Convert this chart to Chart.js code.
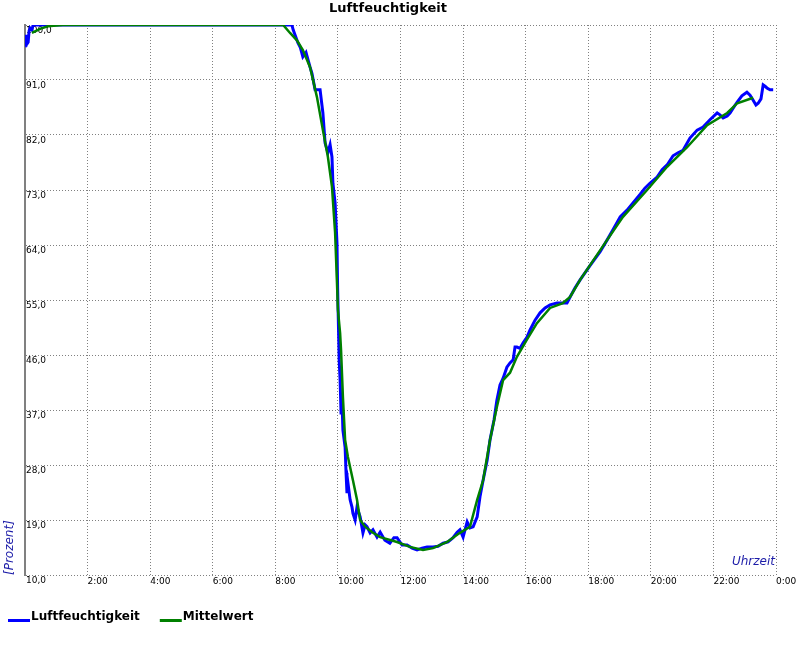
<!DOCTYPE html>
<html>
<head>
<meta charset="utf-8">
<script src="https://cdn.jsdelivr.net/npm/chart.js@4/dist/chart.umd.min.js"></script>
<style>
html,body{margin:0;padding:0;background:#fff;}
canvas{display:block;}
</style>
</head>
<body>
<canvas id="c" width="800" height="650"></canvas>
<script>
const chartTitle = 'Luftfeuchtigkeit';
const xTitle = 'Uhrzeit';
const yTitle = '[Prozent]';
const seriesNames = ['Luftfeuchtigkeit', 'Mittelwert'];
const seriesColors = ['#0000ff', '#008000'];

const humidityHours = [0.00,0.03,0.06,0.10,0.13,0.16,0.22,0.26,8.53,8.57,8.72,8.80,8.88,8.98,9.11,9.17,9.27,9.43,9.52,9.59,9.68,9.75,9.81,9.84,9.91,9.97,9.99,10.02,10.04,10.07,10.10,10.13,10.16,10.23,10.26,10.29,10.32,10.39,10.45,10.48,10.55,10.61,10.71,10.80,10.87,10.93,11.03,11.12,11.25,11.35,11.50,11.66,11.79,11.89,12.05,12.21,12.37,12.53,12.69,12.85,13.04,13.20,13.36,13.52,13.68,13.81,13.90,14.00,14.13,14.22,14.32,14.45,14.54,14.64,14.77,14.86,14.99,15.08,15.18,15.28,15.40,15.50,15.60,15.66,15.72,15.82,15.92,16.04,16.14,16.30,16.46,16.62,16.78,17.00,17.16,17.32,17.42,17.58,17.74,18.05,18.38,18.60,18.79,19.02,19.24,19.43,19.66,19.81,19.97,20.20,20.36,20.52,20.71,20.87,21.03,21.25,21.48,21.67,21.89,22.12,22.21,22.31,22.44,22.53,22.63,22.76,22.91,23.07,23.17,23.27,23.36,23.43,23.52,23.59,23.65,23.71,23.81,23.91];
const humidityValues = [96.7,98.4,96.9,97.2,99.0,99.5,99.2,100,100,99.2,97.1,96.3,94.8,95.5,93.1,92.1,89.4,89.4,85.6,80.7,79.1,80.4,78.4,74.1,70.9,64.3,57.1,50.1,45.2,41.9,36.5,38.6,33.7,30.9,26.7,23.4,25.1,22.3,21.1,20.1,19.0,21.1,19.5,16.9,18.2,17.9,16.9,17.4,16.2,17.0,15.7,15.2,16.1,16.1,14.9,14.9,14.4,14.1,14.4,14.6,14.6,14.7,15.2,15.4,16.1,17.0,17.4,16.2,18.7,17.7,17.9,19.5,22.8,25.5,28.8,32.1,35.4,38.6,41.1,42.2,44.0,44.7,45.2,47.3,47.3,47.1,48.0,48.9,50.1,51.7,52.9,53.7,54.2,54.5,54.5,54.5,55.5,57.0,58.3,60.6,62.9,64.8,66.5,68.6,69.7,70.9,72.3,73.3,74.1,75.1,76.3,77.1,78.6,79.1,79.5,81.5,82.8,83.3,84.5,85.6,85.3,84.8,85.1,85.6,86.4,87.4,88.4,89.0,88.5,87.7,86.9,87.2,87.9,90.2,90.0,89.7,89.4,89.4];

const meanHours = [0.22,0.50,0.73,1.21,8.25,8.47,8.69,8.88,9.11,9.33,9.52,9.68,9.81,9.91,9.97,10.00,10.07,10.10,10.16,10.23,10.32,10.48,10.61,10.71,10.87,11.12,11.35,11.89,12.30,12.72,13.04,13.49,13.90,14.22,14.45,14.64,14.86,15.08,15.28,15.50,15.72,16.04,16.36,16.78,17.19,17.42,17.74,18.60,19.11,19.88,20.52,21.16,21.80,22.44,22.76,23.27];
const meanValues = [98.7,99.4,99.8,100,100,98.7,97.5,95.9,93.1,88.2,82.8,78.4,73.5,66.0,57.8,53.4,49.6,46.8,39.1,32.1,29.3,25.5,22.3,19.0,17.9,16.9,16.2,15.4,14.6,14.1,14.4,15.4,16.9,17.9,22.3,25.5,32.1,37.5,41.9,43.1,45.7,48.5,51.2,53.7,54.5,55.5,58.3,64.8,68.6,73.0,76.8,80.0,83.6,85.6,87.2,88.1];

const yMin = 10, yMax = 100, yStep = 9;
const xMin = 0, xMax = 24, xStep = 2;

const FONT = '"DejaVu Sans", Verdana, sans-serif';
const GRID = '#808080';
const AXIS_TITLE_COLOR = '#1c1ca8';

function pairs(xs, ys) { return xs.map((x, i) => ({x: x, y: ys[i]})); }

const extras = {
  id: 'extras',
  afterDraw(chart) {
    const ctx = chart.ctx, a = chart.chartArea;
    ctx.save();
    ctx.font = 'italic 12px ' + FONT;
    ctx.fillStyle = AXIS_TITLE_COLOR;
    ctx.textAlign = 'right';
    ctx.textBaseline = 'alphabetic';
    ctx.fillText(xTitle, a.right - 1, a.bottom - 10);
    ctx.save();
    ctx.translate(13, a.bottom);
    ctx.rotate(-Math.PI / 2);
    ctx.textAlign = 'left';
    ctx.fillText(yTitle, 0, 0);
    ctx.restore();
    ctx.font = 'bold 12px ' + FONT;
    ctx.textAlign = 'left';
    let x = 8;
    const baseY = 620;
    chart.data.datasets.forEach((ds) => {
      ctx.fillStyle = ds.borderColor;
      ctx.fillRect(x, baseY - 1, 22, 3);
      x += 23;
      ctx.fillStyle = '#000';
      ctx.fillText(ds.label, x, baseY);
      x += ctx.measureText(ds.label).width + 20;
    });
    ctx.restore();
  }
};

new Chart(document.getElementById('c'), {
  type: 'line',
  data: {
    datasets: [
      { label: seriesNames[0], data: pairs(humidityHours, humidityValues), borderColor: seriesColors[0], backgroundColor: seriesColors[0], borderWidth: 3, pointRadius: 0, tension: 0, order: 2 },
      { label: seriesNames[1], data: pairs(meanHours, meanValues), borderColor: seriesColors[1], backgroundColor: seriesColors[1], borderWidth: 2.5, pointRadius: 0, tension: 0, order: 1 }
    ]
  },
  options: {
    responsive: false,
    animation: false,
    events: [],
    layout: { padding: { top: 0, right: 24, bottom: 0, left: 0 } },
    plugins: {
      legend: { display: false },
      tooltip: { enabled: false },
      title: {
        display: true, text: chartTitle, color: '#000',
        font: { family: FONT, size: 13, weight: 'bold' },
        padding: { top: 1, bottom: 8.4 }
      }
    },
    scales: {
      x: {
        type: 'linear', min: xMin, max: xMax,
        ticks: {
          stepSize: xStep, align: 'start', padding: 1, maxRotation: 0, autoSkip: false,
          color: '#000', font: { family: FONT, size: 9 },
          callback: (v) => v === 0 ? '' : (v % 24) + ':00'
        },
        grid: { color: GRID, lineWidth: 1, drawTicks: false },
        border: { display: false, dash: [1, 2] },
        afterFit: (s) => { s.height = 75; s.paddingLeft = 0; s.paddingRight = 0; }
      },
      y: {
        min: yMin, max: yMax,
        ticks: {
          stepSize: yStep, mirror: true, padding: 1, labelOffset: 6,
          color: '#000', font: { family: FONT, size: 9 },
          callback: (v) => v.toFixed(1).replace('.', ',')
        },
        grid: { color: GRID, lineWidth: 1, drawTicks: false },
        border: { display: true, color: GRID, width: 2, dash: [1, 2] },
        afterFit: (s) => { s.width = 25; s.paddingTop = 0; s.paddingBottom = 0; }
      }
    }
  },
  plugins: [extras]
});
</script>
</body>
</html>
